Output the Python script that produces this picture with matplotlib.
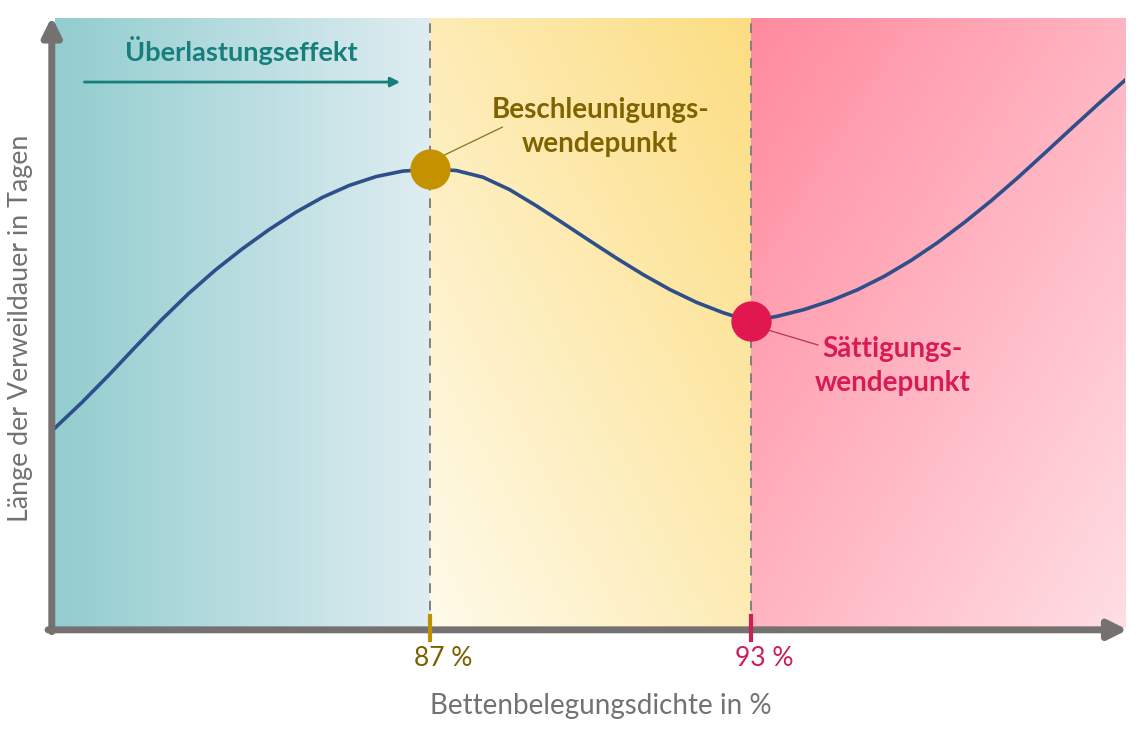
import numpy as np
import matplotlib.pyplot as plt

# Bettenbelegungsdichte (%) and Verweildauer (arbitrary units)
belegung = [80, 80.5, 81, 81.5, 82, 82.5, 83, 83.5, 84, 84.5, 85, 85.5, 86, 86.5,
            87, 87.5, 88, 88.5, 89, 89.5, 90, 90.5, 91, 91.5, 92, 92.5, 93, 93.5,
            94, 94.5, 95, 95.5, 96, 96.5, 97, 97.5, 98, 98.5, 99, 99.5, 100]
verweildauer = [3.28, 3.695, 4.14, 4.605, 5.06, 5.485, 5.87, 6.215, 6.53, 6.815,
                7.06, 7.255, 7.40, 7.49, 7.52, 7.50, 7.39, 7.185, 6.92, 6.635,
                6.345, 6.06, 5.79, 5.545, 5.335, 5.165, 5.03, 5.11, 5.22, 5.365,
                5.545, 5.765, 6.025, 6.32, 6.65, 7.005, 7.385, 7.785, 8.19, 8.59, 8.98]

punkte_x = [87, 93]
punkte_y = [7.52, 5.03]
tick_labels = ["87 %", "93 %"]

plt.rcParams['font.family'] = ['Lato', 'DejaVu Sans']

fig = plt.figure(figsize=(11.42, 7.37), dpi=100)
ax = fig.add_axes([55/1142, 1 - 628/737, 1070/1142, 610/737])
ax.set_xlim(80, 100)
ax.set_ylim(0, 10)
ax.axis('off')


def gradient(c0, c1, direction, n=200):
    # direction: 'h' left->right, 'd1' bottom-left->top-right, 'd2' top-left->bottom-right
    u = np.linspace(0, 1, n)
    X, Y = np.meshgrid(u, u)  # Y: 0 top row, 1 bottom row in image
    if direction == 'h':
        t = X
    elif direction == 'd1':
        t = (X + (1 - Y)) / 2
    else:
        t = (X + Y) / 2
    c0 = np.array(c0) / 255
    c1 = np.array(c1) / 255
    return c0 + (c1 - c0) * t[..., None]


ax.imshow(gradient((146, 205, 207), (223, 237, 241), 'h'), extent=(80, 87, 0, 10),
          aspect='auto', zorder=0)
ax.imshow(gradient((255, 251, 234), (252, 221, 130), 'd1'), extent=(87, 93, 0, 10),
          aspect='auto', zorder=0)
ax.imshow(gradient((255, 138, 158), (255, 222, 228), 'd2'), extent=(93, 100, 0, 10),
          aspect='auto', zorder=0)

for xv in punkte_x:
    ax.plot([xv, xv], [0, 10], color='#808080', lw=1.4, ls=(0, (5, 4)), zorder=1)

ax.plot(belegung, verweildauer, color='#2f4f8a', lw=2.6, zorder=2,
        solid_joinstyle='round')

ax.plot(punkte_x[0], punkte_y[0], 'o', ms=28, color='#c49100', zorder=3)
ax.plot(punkte_x[1], punkte_y[1], 'o', ms=28, color='#e0184f', zorder=3)

# axes arrows
grau = '#757171'
ax.annotate('', xy=(100.05, -0.03), xytext=(79.87, -0.03),
            arrowprops=dict(arrowstyle='-|>', lw=5, color=grau, mutation_scale=28,
                            shrinkA=0, shrinkB=0), annotation_clip=False)
ax.annotate('', xy=(79.94, 10.02), xytext=(79.94, -0.06),
            arrowprops=dict(arrowstyle='-|>', lw=5, color=grau, mutation_scale=28,
                            shrinkA=0, shrinkB=0), annotation_clip=False)

# tick marks and labels
tick_cols = ['#c09000', '#cc1f57']
label_cols = ['#7a6100', '#cc1f57']
for xv, lab, tc, lc in zip(punkte_x, tick_labels, tick_cols, label_cols):
    ax.plot([xv, xv], [-0.2, 0.2], color=tc, lw=3, zorder=5, clip_on=False)
    ax.text(xv + 0.25, -0.29, lab, color=lc, fontsize=19, ha='center', va='top')

ax.text(90.2, -1.07, "Bettenbelegungsdichte in %", color=grau, fontsize=20,
        ha='center', va='top')
fig.text(21/1142, 1 - 328/737, "Länge der Verweildauer in Tagen", color=grau,
         fontsize=19.3, rotation=90, ha='center', va='center')

# Überlastungseffekt
ax.text(83.48, 9.47, "Überlastungseffekt", color='#167f7b', fontsize=19.5,
        fontweight='bold', ha='center', va='center')
ax.annotate('', xy=(86.45, 8.95), xytext=(80.55, 8.95),
            arrowprops=dict(arrowstyle='-|>', lw=2, color='#167f7b', mutation_scale=14,
                            shrinkA=0, shrinkB=0))

# annotations
ax.text(90.19, 8.21, "Beschleunigungs-\nwendepunkt", color='#7f6300', fontsize=20,
        fontweight='bold', ha='center', va='center', linespacing=1.38)
ax.plot([87.27, 88.36], [7.75, 8.21], color='#8a7020', lw=0.9, zorder=2)

ax.text(95.66, 4.30, "Sättigungs-\nwendepunkt", color='#d81b55', fontsize=20,
        fontweight='bold', ha='center', va='center', linespacing=1.38)
ax.plot([93.31, 94.26], [4.89, 4.64], color='#c0304f', lw=0.9, zorder=2)

fig.savefig('out.png', dpi=100)
